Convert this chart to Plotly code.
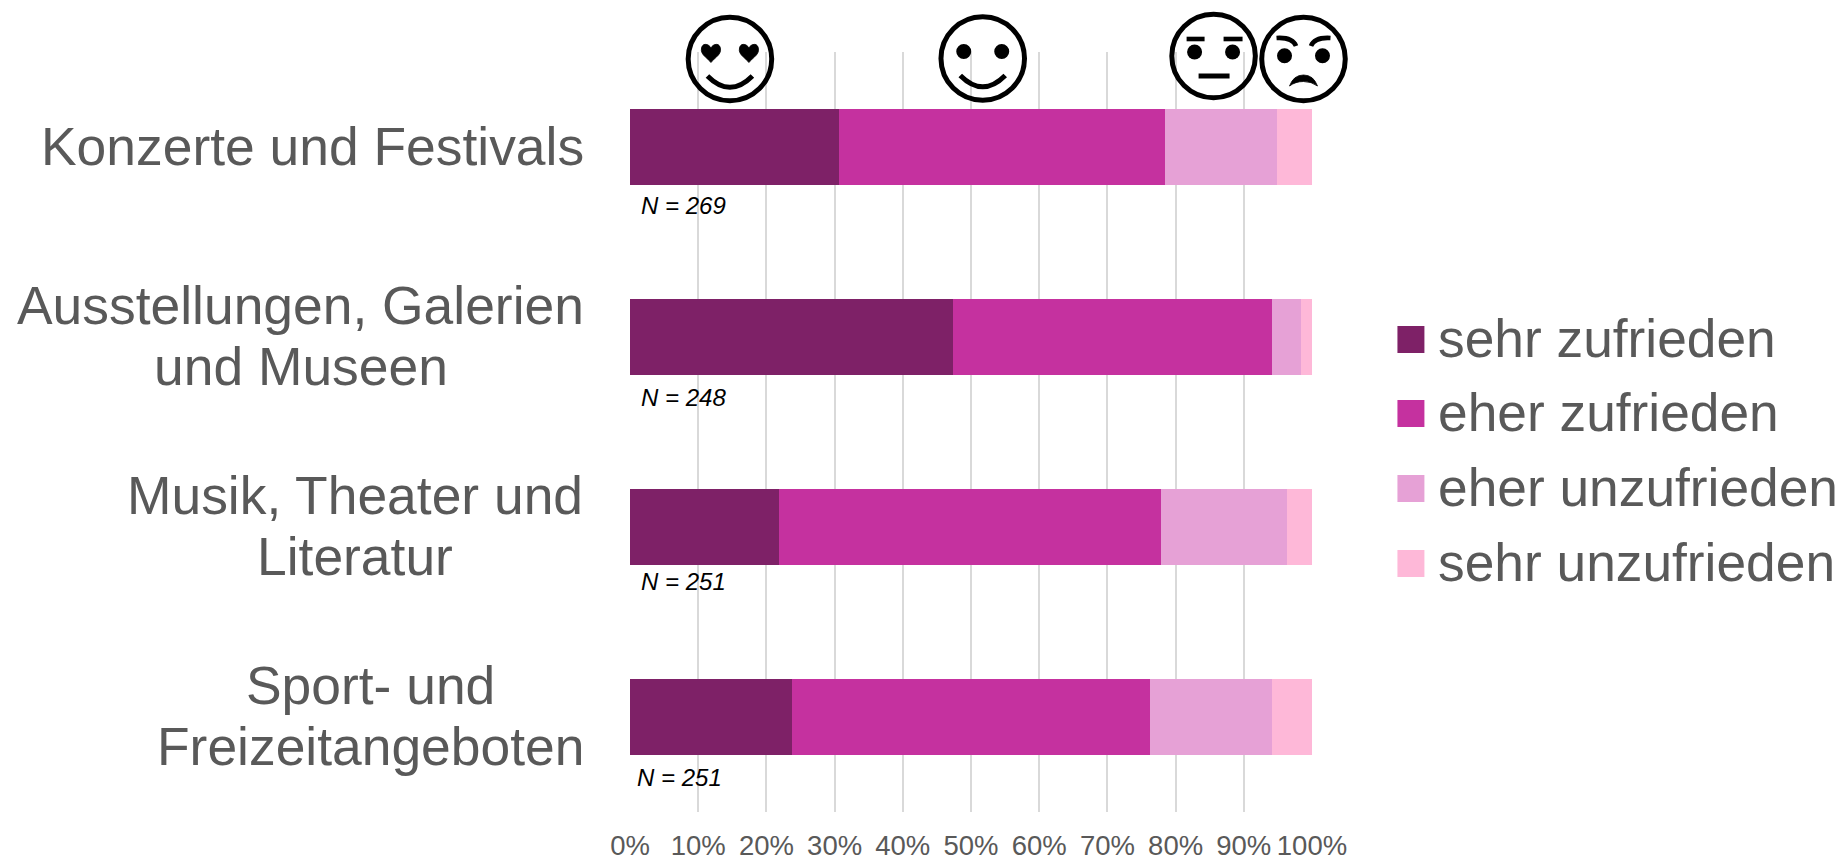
import plotly.graph_objects as go

categories = ["Konzerte und Festivals", "Ausstellungen, Galerien und Museen",
              "Musik, Theater und Literatur", "Sport- und Freizeitangeboten"]
label_lines = [["Konzerte und Festivals"], ["Ausstellungen, Galerien", "und Museen"],
               ["Musik, Theater und", "Literatur"], ["Sport- und", "Freizeitangeboten"]]
label_center_px = [312.5, 300.5, 354.5, 370]
series_names = ["sehr zufrieden", "eher zufrieden", "eher unzufrieden", "sehr unzufrieden"]
series_colors = ["#7E2167", "#C5319F", "#E6A1D6", "#FEB8D8"]
sehr_zufrieden = [30.7, 47.4, 21.9, 23.8]
eher_zufrieden = [47.7, 46.7, 56.0, 52.4]
eher_unzufrieden = [16.4, 4.3, 18.5, 17.9]
sehr_unzufrieden = [5.2, 1.6, 3.6, 5.9]
n_labels = ["N = 269", "N = 248", "N = 251", "N = 251"]
n_x = [1.3, 1.3, 1.3, 0.7]
n_shift = [58, 60, 54, 60]
tick_vals = [0, 10, 20, 30, 40, 50, 60, 70, 80, 90, 100]
tick_text = ["0%", "10%", "20%", "30%", "40%", "50%", "60%", "70%", "80%", "90%", "100%"]

PAGE = 8  # the page body's own margin
W, H = 1845 - PAGE, 861 - PAGE
L, R, T, B = 630, 1312.5, 52, 812
FONT = "Liberation Sans, Arial, sans-serif"
GREY = "#595959"

def px(x):
    return (x - L) / (R - L)

def py(y):
    return (B - y) / (B - T)

def path(cx, cy, cmds):
    out = []
    for c in cmds:
        if isinstance(c, str):
            out.append(c)
        else:
            out.append(f"{px(cx + c[0]):.5f},{py(cy + c[1]):.5f}")
    return " ".join(out)

shapes, annotations = [], []

def line_path(cx, cy, cmds, width=4.0):
    shapes.append(dict(type="path", xref="paper", yref="paper", path=path(cx, cy, cmds),
                       line=dict(color="black", width=width), fillcolor="rgba(0,0,0,0)"))

def fill_path(cx, cy, cmds):
    shapes.append(dict(type="path", xref="paper", yref="paper", path=path(cx, cy, cmds),
                       line=dict(color="black", width=0.8), fillcolor="black"))

def circle(cx, cy, r, filled=False, width=5):
    shapes.append(dict(type="circle", xref="paper", yref="paper",
                       x0=px(cx - r), x1=px(cx + r), y0=py(cy + r), y1=py(cy - r),
                       line=dict(color="black", width=0 if filled else width),
                       fillcolor="black" if filled else "rgba(0,0,0,0)"))

def heart(cx, cy, dx):
    fill_path(cx, cy, ["M", (dx, -11), "C", (dx - 2, -15.5), (dx - 10, -17), (dx - 9.6, -8.5),
                       "C", (dx - 9, -3.5), (dx - 3, -0.5), (dx, 3.5),
                       "C", (dx + 3, -0.5), (dx + 9, -3.5), (dx + 9.6, -8.5),
                       "C", (dx + 10, -17), (dx + 2, -15.5), (dx, -11), "Z"])

def smile(cx, cy):
    line_path(cx, cy, ["M", (-22.5, 17), "Q", (0, 39.6), (22.5, 17)], 5)

# Face 1: heart eyes
circle(730, 59, 41.8)
heart(730, 59, -19)
heart(730, 59, 19)
smile(730, 59)
# Face 2: happy
circle(983, 58.5, 41.8)
circle(983 - 19, 51.5, 7.5, True)
circle(983 + 19, 51.5, 7.5, True)
smile(983, 58.5)
# Face 3: neutral
circle(1214, 56, 41.8)
circle(1214 - 19, 52, 7.5, True)
circle(1214 + 19, 52, 7.5, True)
line_path(1214, 56, ["M", (-27, -17), "L", (-9, -17)], 4.6)
line_path(1214, 56, ["M", (10, -17), "L", (29, -17)], 4.6)
line_path(1214, 56, ["M", (-15, 20), "L", (16, 20)], 5)
# Face 4: angry
circle(1304, 59, 41.8)
circle(1304 - 19, 55.7, 7.5, True)
circle(1304 + 19, 55.7, 7.5, True)
line_path(1304, 59, ["M", (-27, -21), "Q", (-11, -22), (-7.5, -13)], 4.6)
line_path(1304, 59, ["M", (27, -21), "Q", (11, -22), (7.5, -13)], 4.6)
fill_path(1304, 59, ["M", (-14, 27), "Q", (-10, 16), (0, 16), "Q", (10, 16), (14, 27),
                     "Q", (8, 22.5), (0, 22.5), "Q", (-8, 22.5), (-14, 27), "Z"])

# Legend drawn to size
legend_y = [339.5, 413.5, 488.5, 563.5]
for name, color, y in zip(series_names, series_colors, legend_y):
    shapes.append(dict(type="rect", xref="paper", yref="paper", x0=px(1398), x1=px(1425),
                       y0=py(y + 13.5), y1=py(y - 13.5), fillcolor=color, line=dict(width=0)))
    annotations.append(dict(text=name, xref="paper", yref="paper", x=px(1437), y=py(y - 1),
                            xanchor="left", yanchor="middle", showarrow=False,
                            font=dict(family=FONT, size=53.3, color=GREY)))

# Category labels, centred line by line
for cat, lines, cx in zip(categories, label_lines, label_center_px):
    n = len(lines)
    for i, text in enumerate(lines):
        annotations.append(dict(text=text, xref="paper", yref="y", x=px(cx), y=cat,
                                yshift=-(i - (n - 1) / 2) * 61 + 1,
                                xanchor="center", yanchor="middle", showarrow=False,
                                font=dict(family=FONT, size=53.4, color=GREY)))

for cat, text, x, s in zip(categories, n_labels, n_x, n_shift):
    annotations.append(dict(text=f"<i>{text}</i>", xref="x", yref="y", x=x, y=cat, yshift=-s,
                            xanchor="left", yanchor="middle", showarrow=False,
                            font=dict(family=FONT, size=24, color="black")))

fig = go.Figure()
for name, color, values in zip(series_names, series_colors,
                               [sehr_zufrieden, eher_zufrieden, eher_unzufrieden, sehr_unzufrieden]):
    fig.add_trace(go.Bar(y=categories, x=values, name=name, orientation="h",
                         marker=dict(color=color, line=dict(width=0)), width=0.4))

fig.update_layout(
    barmode="stack", width=W, height=H, showlegend=False,
    paper_bgcolor="white", plot_bgcolor="white",
    margin=dict(l=L - PAGE, r=1845 - R, t=T - PAGE, b=861 - B, pad=0),
    shapes=shapes, annotations=annotations,
    xaxis=dict(range=[0, 100], tickvals=tick_vals, ticktext=tick_text, showgrid=True,
               automargin=False,
               gridcolor="#D9D9D9", gridwidth=2, zeroline=False, showline=False,
               ticks="outside", ticklen=9, tickcolor="rgba(0,0,0,0)",
               tickfont=dict(family=FONT, size=27.5, color=GREY)),
    yaxis=dict(autorange="reversed", showticklabels=False, showgrid=False, zeroline=False,
               automargin=False,
               showline=False, categoryorder="array", categoryarray=categories),
)
fig.write_html("out.html")
